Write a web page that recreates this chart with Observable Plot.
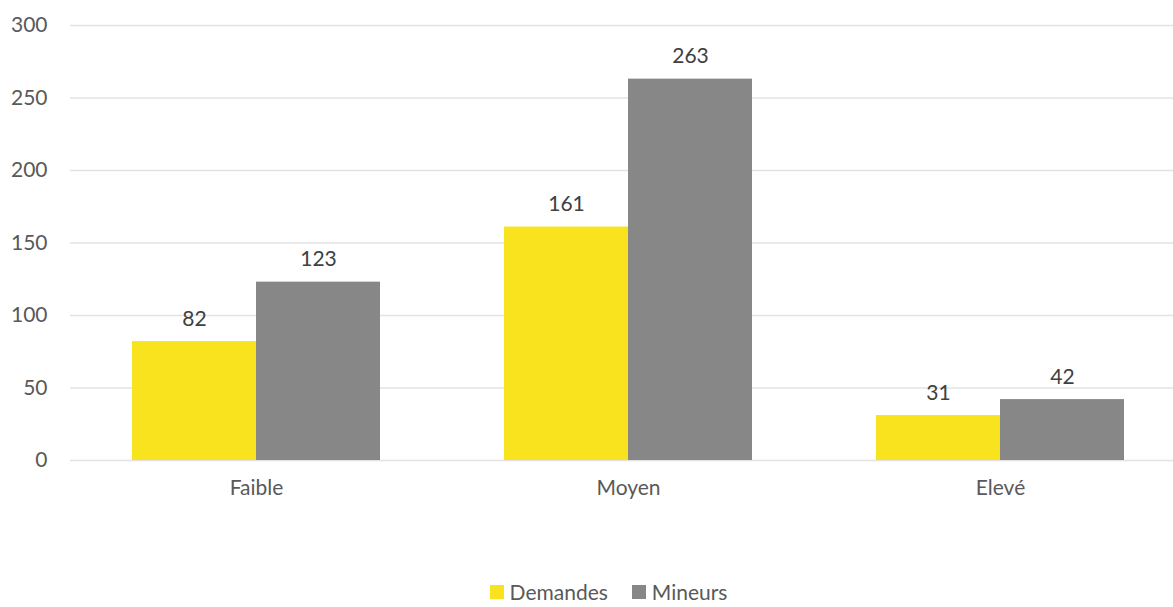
<!DOCTYPE html>
<html>
<head>
<meta charset="utf-8">
<script src="https://cdn.jsdelivr.net/npm/d3@7"></script>
<script src="https://cdn.jsdelivr.net/npm/@observablehq/plot@0.6"></script>
<style>
  html, body { margin: 0; padding: 0; background: #fff; }
  #wrap { position: relative; width: 1173px; height: 607px; overflow: hidden; font-family: Lato, "Open Sans", sans-serif; }
  #legend { position: absolute; top: 580px; left: 0; width: 1173px; display: flex; justify-content: center; gap: 24px; font-size: 21px; line-height: 24px; color: #595959; padding-left: 44px; box-sizing: border-box; }
  .item { display: flex; align-items: center; gap: 6px; }
  .sw { width: 14px; height: 14px; display: inline-block; }
</style>
</head>
<body>
<div id="wrap"><div id="chart"></div><div id="legend"></div></div>
<script>
const categories = ["Faible", "Moyen", "Elevé"];
const series = ["Demandes", "Mineurs"];
const demandes = [82, 161, 31];
const mineurs = [123, 263, 42];
const yTicks = [0, 50, 100, 150, 200, 250, 300];
const colors = ["#F9E21E", "#878787"];

const data = categories.flatMap((c, i) => [
  {category: c, series: series[0], value: demandes[i]},
  {category: c, series: series[1], value: mineurs[i]}
]);

const chart = Plot.plot({
  width: 1173,
  height: 560,
  marginLeft: 70,
  marginRight: -13,
  marginTop: 25,
  marginBottom: 100,
  style: {fontFamily: "Lato, 'Open Sans', sans-serif", fontSize: "21px", color: "#595959", background: "white"},
  fx: {domain: categories, padding: 0, label: null, axis: "bottom", tickSize: 0, tickPadding: 20},
  x: {domain: series, paddingInner: 0, paddingOuter: 0.5, axis: null},
  y: {domain: [0, 300], ticks: yTicks, tickSize: 0, tickPadding: 23, label: null},
  color: {domain: series, range: colors},
  marks: [
    Plot.ruleY(yTicks, {stroke: "#e3e3e3", strokeWidth: 1.5}),
    Plot.barY(data, {fx: "category", x: "series", y: "value", fill: "series"}),
    Plot.text(data, {fx: "category", x: "series", y: "value", text: d => String(d.value), dy: -16, lineAnchor: "bottom", fill: "#404040", fontSize: 21})
  ]
});
document.getElementById("chart").appendChild(chart);

const legend = document.getElementById("legend");
series.forEach((s, i) => {
  const item = document.createElement("div");
  item.className = "item";
  const sw = document.createElement("span");
  sw.className = "sw";
  sw.style.background = colors[i];
  const lab = document.createElement("span");
  lab.textContent = s;
  item.appendChild(sw);
  item.appendChild(lab);
  legend.appendChild(item);
});
</script>
</body>
</html>
